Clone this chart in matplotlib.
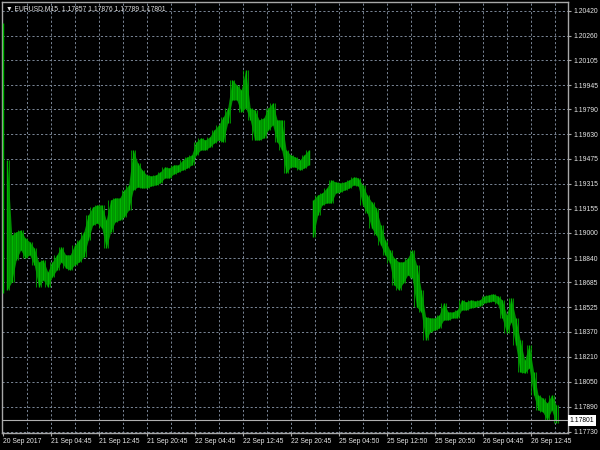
import matplotlib
matplotlib.use("Agg")
import matplotlib.pyplot as plt
import matplotlib.transforms as mtransforms
import numpy as np

# ---- data (EURUSD M15, sampled every 3 bars) ----
bar_index = list(range(0, 370, 3))
high = [1.20343, 1.19467, 1.18987, 1.19007, 1.19019, 1.18968, 1.18943, 1.18904, 1.18815, 1.18828,
        1.18751, 1.18815, 1.18860, 1.18911, 1.18860, 1.18860, 1.18924, 1.18955, 1.19007, 1.19115,
        1.19166, 1.19179, 1.19179, 1.19083, 1.19211, 1.19224, 1.19224, 1.19275, 1.19307, 1.19531,
        1.19448, 1.19403, 1.19371, 1.19365, 1.19371, 1.19390, 1.19422, 1.19416, 1.19435, 1.19435,
        1.19467, 1.19486, 1.19499, 1.19582, 1.19608, 1.19595, 1.19614, 1.19659, 1.19691, 1.19742,
        1.19799, 1.19979, 1.19947, 1.19915, 1.20042, 1.19799, 1.19787, 1.19723, 1.19736, 1.19799,
        1.19831, 1.19723, 1.19723, 1.19531, 1.19499, 1.19486, 1.19467, 1.19499, 1.19531, 1.19211,
        1.19243, 1.19256, 1.19288, 1.19339, 1.19326, 1.19320, 1.19326, 1.19339, 1.19358, 1.19352,
        1.19307, 1.19243, 1.19198, 1.19160, 1.19051, 1.18955, 1.18892, 1.18840, 1.18815, 1.18815,
        1.18840, 1.18892, 1.18796, 1.18636, 1.18463, 1.18457, 1.18457, 1.18476, 1.18553, 1.18495,
        1.18495, 1.18508, 1.18572, 1.18559, 1.18572, 1.18565, 1.18572, 1.18597, 1.18604, 1.18610,
        1.18597, 1.18572, 1.18476, 1.18585, 1.18457, 1.18316, 1.18188, 1.18284, 1.18111, 1.17964,
        1.17945, 1.17913, 1.17964, 1.17900]
low = [1.18617, 1.18636, 1.18687, 1.18828, 1.18892, 1.18840, 1.18860, 1.18796, 1.18655, 1.18700,
       1.18655, 1.18719, 1.18764, 1.18815, 1.18776, 1.18764, 1.18796, 1.18815, 1.18847, 1.18955,
       1.19051, 1.19064, 1.19032, 1.18904, 1.19007, 1.19071, 1.19083, 1.19103, 1.19147, 1.19275,
       1.19294, 1.19288, 1.19288, 1.19301, 1.19307, 1.19320, 1.19352, 1.19352, 1.19377, 1.19390,
       1.19403, 1.19416, 1.19435, 1.19499, 1.19531, 1.19531, 1.19550, 1.19576, 1.19595, 1.19582,
       1.19704, 1.19851, 1.19851, 1.19774, 1.19799, 1.19723, 1.19595, 1.19595, 1.19608, 1.19659,
       1.19691, 1.19582, 1.19531, 1.19384, 1.19422, 1.19422, 1.19403, 1.19416, 1.19435, 1.18975,
       1.19115, 1.19179, 1.19192, 1.19192, 1.19256, 1.19262, 1.19275, 1.19288, 1.19307, 1.19301,
       1.19179, 1.19128, 1.19032, 1.18987, 1.18924, 1.18860, 1.18808, 1.18668, 1.18636, 1.18680,
       1.18732, 1.18712, 1.18527, 1.18495, 1.18316, 1.18367, 1.18380, 1.18393, 1.18444, 1.18444,
       1.18457, 1.18457, 1.18508, 1.18508, 1.18521, 1.18527, 1.18533, 1.18553, 1.18559, 1.18565,
       1.18546, 1.18457, 1.18361, 1.18431, 1.18284, 1.18111, 1.18105, 1.18137, 1.17964, 1.17868,
       1.17856, 1.17805, 1.17868, 1.17785]
# segments of continuous trading (first spike bar, until Friday close, from Monday open)
segment_starts = [0, 3, 207]

price_levels = [1.20420, 1.20260, 1.20105, 1.19945, 1.19790, 1.19630, 1.19475, 1.19315, 1.19155,
                1.19000, 1.18840, 1.18685, 1.18525, 1.18370, 1.18210, 1.18050, 1.17890, 1.17730]
time_tick_index = [0, 32, 64, 96, 128, 160, 192, 224, 256, 288, 320, 352]
time_labels = ["20 Sep 2017", "21 Sep 04:45", "21 Sep 12:45", "21 Sep 20:45", "22 Sep 04:45",
               "22 Sep 12:45", "22 Sep 20:45", "25 Sep 04:50", "25 Sep 12:50", "25 Sep 20:50",
               "26 Sep 04:45", "26 Sep 12:45"]
symbol = "EURUSD,M15"
ohlc_last = [1.17857, 1.17876, 1.17789, 1.17801]
bid = 1.17801

# ---- figure ----
FONT = ["Liberation Sans", "DejaVu Sans"]
fs = 4.9
fig = plt.figure(figsize=(6, 4.5), dpi=100, facecolor="black")
ax = fig.add_axes([2 / 600, (450 - 433) / 450, 566 / 600, 431 / 450])
ax.set_facecolor("black")

x = np.array(bar_index, dtype=float)
hi = np.array(high)
lo = np.array(low)
bounds = segment_starts + [bar_index[-1] + 3]
for a, b in zip(bounds[:-1], bounds[1:]):
    m = (x >= a) & (x < b)
    if m.sum() > 1:
        ax.fill_between(x[m], lo[m], hi[m], color="#008e00", linewidth=0, zorder=3)
ax.vlines(x, lo, hi, color="#00b800", linewidth=1.0, zorder=4)
nxt_lo = np.r_[lo[1:], lo[-1]]
nxt_hi = np.r_[hi[1:], hi[-1]]
same_seg = ~np.isin(x + 3, segment_starts)
ax.vlines(x[same_seg] + 1.5, np.minimum(lo, nxt_lo)[same_seg], np.maximum(hi, nxt_hi)[same_seg],
          color="#00a400", linewidth=0.6, zorder=4)

ax.set_xlim(-0.47, 376.9)
ax.set_ylim(1.17721, 1.20477)

grid_kw = dict(color="#7a8696", linestyle=(0, (2.2, 2.2)), linewidth=0.7, zorder=1)
for p in price_levels:
    ax.axhline(p, **grid_kw)
for xi in range(16, 377, 16):
    ax.axvline(xi, **grid_kw)

ax.axhline(bid, color="#b0b0b0", linewidth=0.8, zorder=5)

for s in ax.spines.values():
    s.set_color("#a8a8a8")
    s.set_linewidth(1.0)

ax.yaxis.tick_right()
ax.set_yticks(price_levels)
ax.set_yticklabels([f"{p:.5f}" for p in price_levels], fontfamily=FONT, fontsize=fs, color="#e8e8e8")
ax.set_xticks(time_tick_index)
ax.set_xticklabels(time_labels, fontfamily=FONT, fontsize=fs, color="#e8e8e8", ha="left")
ax.tick_params(axis="y", length=2.2, width=0.8, color="#a8a8a8", pad=1.5)
ax.tick_params(axis="x", length=2.2, width=0.8, color="#a8a8a8", pad=1.2)

trans = mtransforms.blended_transform_factory(ax.transAxes, ax.transData)
ax.text(1.0025, bid, f"{bid:.5f}", transform=trans, fontfamily=FONT, fontsize=fs, color="black",
        va="center", ha="left", zorder=10,
        bbox=dict(facecolor="white", edgecolor="none", boxstyle="square,pad=0.25"))

title = "\u25BC " + symbol + "  " + " ".join(f"{v:.5f}" for v in ohlc_last)
ax.text(4 / 566, 1 - 7 / 431, title, transform=ax.transAxes, fontfamily=FONT, fontsize=fs,
        color="#e0e0e0", va="center", ha="left", zorder=10)

fig.savefig("out.png", dpi=100, facecolor="black")
